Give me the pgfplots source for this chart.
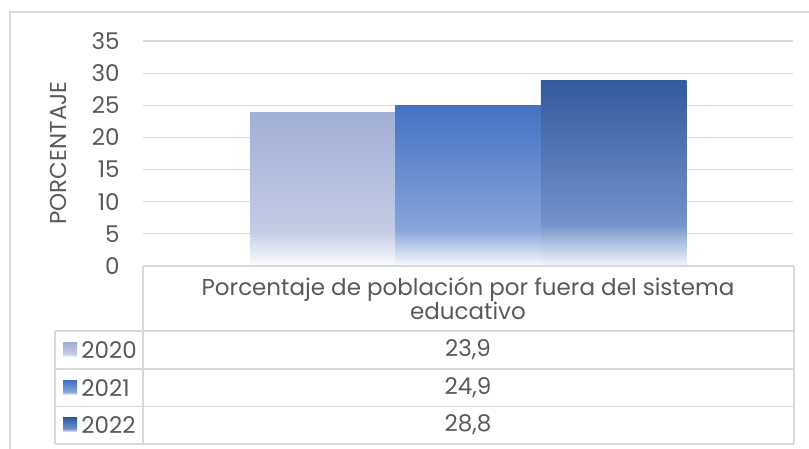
\documentclass[border=0pt]{standalone}
\usepackage{fontspec}
\setmainfont{Poppins}
\usepackage{pgfplots}
\pgfplotsset{compat=1.18}

\definecolor{txt}{HTML}{595959}
\definecolor{gridc}{HTML}{D9D9D9}
\definecolor{aTop}{HTML}{A2B0D6}
\definecolor{aMid}{HTML}{C3CBE5}
\definecolor{bTop}{HTML}{4472C4}
\definecolor{bMid}{HTML}{88A4D9}
\definecolor{cTop}{HTML}{335A9F}
\definecolor{cMid}{HTML}{7391CB}

% bar fills: strong colour at the top, fading to white in the lowest fifth
\pgfdeclareverticalshading{shA}{100bp}{color(0bp)=(aMid!5!white); color(25bp)=(aMid!5!white); color(36.5bp)=(aMid); color(75bp)=(aTop); color(100bp)=(aTop)}
\pgfdeclareverticalshading{shB}{100bp}{color(0bp)=(bMid!5!white); color(25bp)=(bMid!5!white); color(36.5bp)=(bMid); color(75bp)=(bTop); color(100bp)=(bTop)}
\pgfdeclareverticalshading{shC}{100bp}{color(0bp)=(cMid!8!white); color(25bp)=(cMid!8!white); color(36.5bp)=(cMid); color(75bp)=(cTop); color(100bp)=(cTop)}

\newcommand{\chartfont}{\fontsize{11.5}{12}\selectfont}

\begin{document}
\begin{tikzpicture}[x=0.5pt,y=0.5pt,font=\chartfont]
\path[use as bounding box] (0,0) rectangle (809,449);
% chart frame (cut off at right and bottom)
\draw[gridc, line width=0.6pt] (10,0) -- (10,437) -- (809,437);
\coordinate (O) at (143,183);

\begin{axis}[
    at={(O)}, anchor=south west,
    scale only axis, width=325pt, height=112.5pt,
    xmin=-1, xmax=1, ymin=0, ymax=35,
    ytick={0,5,...,35}, xtick=\empty,
    ybar=0pt, bar width=72.75pt,
    axis line style={draw=none},
    ymajorgrids, grid style={gridc, line width=0.6pt},
    major tick length=0pt,
    yticklabel style={anchor=east, inner sep=0pt, xshift=-11.5pt, font=\chartfont, text=txt},
    /pgf/number format/assume math mode=true,
    clip=false,
]
\addplot[draw=none, shading=shA] coordinates {(0,23.9)};
\addplot[draw=none, shading=shB] coordinates {(0,24.9)};
\addplot[draw=none, shading=shC] coordinates {(0,28.8)};
\end{axis}

% axis title
\node[rotate=90, text=txt] at (58,296) {PORCENTAJE};

% data table
\begin{scope}[gridc, line width=0.75pt]
\draw (143,183) -- (794,183);
\draw (143,183) -- (143,5);
\draw (794,183) -- (794,5);
\draw (55,118) -- (55,5);
\draw (55,118) -- (794,118);
\draw (55,80) -- (794,80);
\draw (55,42.5) -- (794,42.5);
\draw (55,5) -- (794,5);
\end{scope}

\node[text=txt, align=center, font=\fontsize{11.5}{12}\selectfont] at (468,150)
  {Porcentaje de población por fuera del sistema\\educativo};

\shade[shading=shA] (63,92) rectangle (77,106);
\shade[shading=shB] (63,54) rectangle (77,68);
\shade[shading=shC] (63,17) rectangle (77,31);
\node[text=txt, anchor=west, inner sep=0pt] at (81,99) {2020};
\node[text=txt, anchor=west, inner sep=0pt] at (81,61) {2021};
\node[text=txt, anchor=west, inner sep=0pt] at (81,24) {2022};

\node[text=txt] at (468,99) {23,9};
\node[text=txt] at (468,61) {24,9};
\node[text=txt] at (468,24) {28,8};
\end{tikzpicture}
\end{document}
